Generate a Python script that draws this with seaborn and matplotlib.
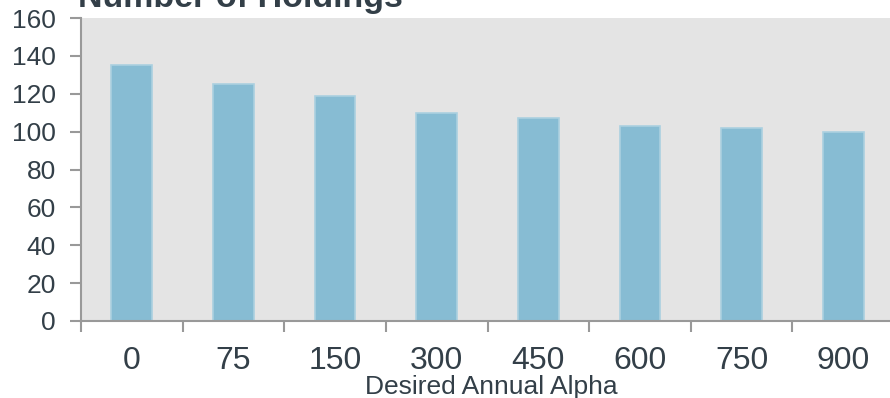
import matplotlib
matplotlib.use("Agg")
import matplotlib.pyplot as plt
import seaborn as sns
import pandas as pd
import numpy as np
from matplotlib.ticker import FixedLocator

categories = ["0", "75", "150", "300", "450", "600", "750", "900"]
holdings = [135, 125, 119, 110, 107, 103, 102, 100]
y_ticks = [0, 20, 40, 60, 80, 100, 120, 140, 160]

sns.set_theme(style="white")
plt.rcParams['font.family'] = ['Liberation Sans', 'DejaVu Sans']

TEXT = "#333f48"
GRID = "#999999"
BG = "#e4e4e4"
BAR = "#87bcd3"
EDGE = "#abd0e0"

df = pd.DataFrame({"alpha": categories, "holdings": holdings})

fig = plt.figure(figsize=(8.9, 3.98), dpi=100)
ax = fig.add_axes([81/890, 77/398, 813/890, 303/398])
ax.set_facecolor(BG)

sns.barplot(data=df, x="alpha", y="holdings", order=categories, color=BAR,
            width=0.4, edgecolor=EDGE, linewidth=1.2, saturation=1, ax=ax)

ax.set_xlim(-0.5, len(categories) - 0.5)
ax.set_ylim(0, 160)
ax.set_yticks(y_ticks)
ax.set_yticklabels([str(v) for v in y_ticks])

for s in ["top", "right"]:
    ax.spines[s].set_visible(False)
for s in ["left", "bottom"]:
    ax.spines[s].set_color(GRID)
    ax.spines[s].set_linewidth(1.5)

ax.tick_params(axis="y", which="major", length=8, width=1.5, color=GRID,
               labelsize=19, labelcolor=TEXT, pad=10, direction="out", left=True)
ax.xaxis.set_minor_locator(FixedLocator(np.arange(-0.5, len(categories), 1.0)))
ax.tick_params(axis="x", which="major", length=0, labelsize=23, labelcolor=TEXT, pad=18)
ax.tick_params(axis="x", which="minor", length=8, width=1.5, color=GRID, direction="out", bottom=True)

ax.set_ylabel("")
ax.set_xlabel("Desired Annual Alpha", fontsize=19, color=TEXT, va="baseline")
ax.xaxis.set_label_coords((491 - 81) / 813, -(394 - 321) / 303)

fig.text(78/890, 1 - 7/398, "Number of Holdings", fontsize=24.5, fontweight="bold",
         color=TEXT, va="baseline", ha="left")

fig.savefig("out.png", dpi=100)
